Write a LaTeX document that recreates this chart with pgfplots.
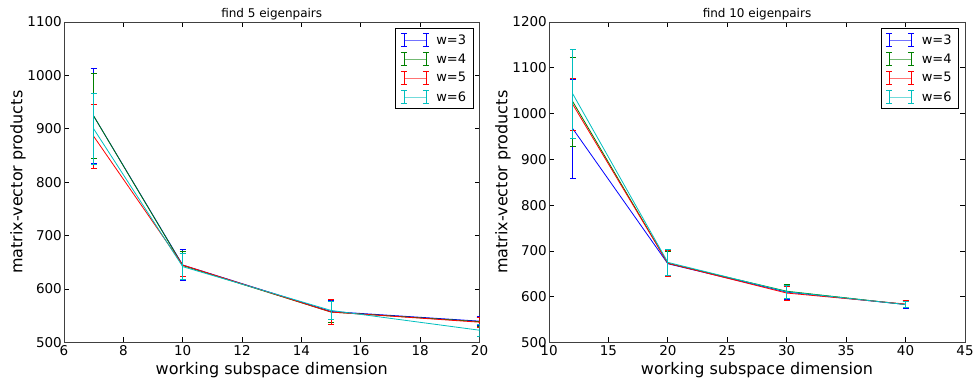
\documentclass[border=0pt]{standalone}
\usepackage{pgfplots}
\pgfplotsset{compat=1.18}
\usepackage{fontspec}
\setmainfont{DejaVu Sans}

\definecolor{mblue}{rgb}{0,0,1}
\definecolor{mgreen}{rgb}{0,0.5,0}
\definecolor{mred}{rgb}{1,0,0}
\definecolor{mcyan}{rgb}{0,0.75,0.75}

\pgfplotsset{
  series/.style={
    color=#1, line width=0.8pt, mark=none,
    error bars/error bar style={color=#1, line width=0.8pt},
    error bars/error mark options={color=#1, rotate=90, mark size=3pt, line width=0.8pt},
  },
  eigpanel/.style={
    scale only axis,
    width=415.5pt, height=320.5pt,
    axis line style={line width=0.8pt, black!75},
    tick style={line width=0.8pt, black},
    major tick length=5pt,
    tick label style={font=\fontsize{13.5}{16}\selectfont},
    /pgf/number format/assume math mode=true,
    /pgf/number format/1000 sep={},
    xticklabel style={inner sep=1pt, yshift=-2pt},
    yticklabel style={inner sep=1pt, xshift=-1pt},
    xlabel style={at={(axis description cs:0.5,0)}, anchor=center, yshift=-27.5pt, font=\fontsize{16}{19}\selectfont},
    ylabel style={at={(axis description cs:0,0.5)}, anchor=center, yshift=46pt, font=\fontsize{16}{19}\selectfont},
    title style={at={(axis description cs:0.5,1)}, anchor=base, yshift=-2pt, font=\fontsize{12}{14}\selectfont},
    legend style={at={(1,1)}, anchor=north east, xshift=-6pt, yshift=-6pt,
      font=\fontsize{13}{15}\selectfont, draw=black, line width=0.8pt,
      row sep=4pt, column sep=5pt, inner xsep=5pt, inner ysep=4pt},
    legend cell align=left,
    legend image code/.code={
      \draw[#1, opacity=0.55] (0pt,0pt) -- (22pt,0pt);
      \draw[#1] (0pt,-6.5pt) -- (0pt,6.5pt);
      \draw[#1] (22pt,-6.5pt) -- (22pt,6.5pt);
      \draw[#1] (-3pt,-6.5pt) -- (3pt,-6.5pt);
      \draw[#1] (-3pt,6.5pt) -- (3pt,6.5pt);
      \draw[#1] (19pt,-6.5pt) -- (25pt,-6.5pt);
      \draw[#1] (19pt,6.5pt) -- (25pt,6.5pt);
    },
    error bars/y dir=both,
    error bars/y explicit,
  }
}

% mean count of products and its spread, per working subspace dimension
\pgfplotstableread{
x   y    e
7   924  89
10  645  29
15  558  20
20  540  8
}\fiveA
\pgfplotstableread{
x   y    e
7   924  80
10  644  26
15  557  20
20  539  8
}\fiveB
\pgfplotstableread{
x   y    e
7   886  60
10  645  22
15  557  24
20  538  9
}\fiveC
\pgfplotstableread{
x   y    e
7   900  67
10  642  24
15  560  17
20  523  11
}\fiveD

\pgfplotstableread{
x   y    e
12  967  108
20  672  27
30  610  15
40  583  8
}\tenA
\pgfplotstableread{
x   y    e
12  1026 97
20  673  27
30  612  15
40  583  7
}\tenB
\pgfplotstableread{
x   y    e
12  1020 57
20  673  28
30  608  15
40  584  8
}\tenC
\pgfplotstableread{
x   y    e
12  1043 97
20  675  28
30  611  14
40  583  7
}\tenD

\begin{document}
\begin{tikzpicture}
\path[use as bounding box] (0pt,0pt) rectangle (977pt,385pt);

\begin{axis}[eigpanel,
  at={(64pt,42.5pt)}, anchor=south west,
  xmin=6, xmax=20, ymin=500, ymax=1100,
  xtick={6,8,...,20}, ytick={500,600,...,1100},
  title={find 5 eigenpairs},
  xlabel={working subspace dimension},
  ylabel={matrix-vector products}]
\addplot[series=mblue]  table[x=x, y=y, y error=e] {\fiveA};
\addplot[series=mgreen] table[x=x, y=y, y error=e] {\fiveB};
\addplot[series=mred]   table[x=x, y=y, y error=e] {\fiveC};
\addplot[series=mcyan]  table[x=x, y=y, y error=e] {\fiveD};
\legend{w=3, w=4, w=5, w=6}
\end{axis}

\begin{axis}[eigpanel,
  at={(549pt,42.5pt)}, anchor=south west,
  width=416pt,
  xmin=10, xmax=45, ymin=500, ymax=1200,
  xtick={10,15,...,45}, ytick={500,600,...,1200},
  title={find 10 eigenpairs},
  xlabel={working subspace dimension},
  ylabel={matrix-vector products}]
\addplot[series=mblue]  table[x=x, y=y, y error=e] {\tenA};
\addplot[series=mgreen] table[x=x, y=y, y error=e] {\tenB};
\addplot[series=mred]   table[x=x, y=y, y error=e] {\tenC};
\addplot[series=mcyan]  table[x=x, y=y, y error=e] {\tenD};
\legend{w=3, w=4, w=5, w=6}
\end{axis}
\end{tikzpicture}
\end{document}
